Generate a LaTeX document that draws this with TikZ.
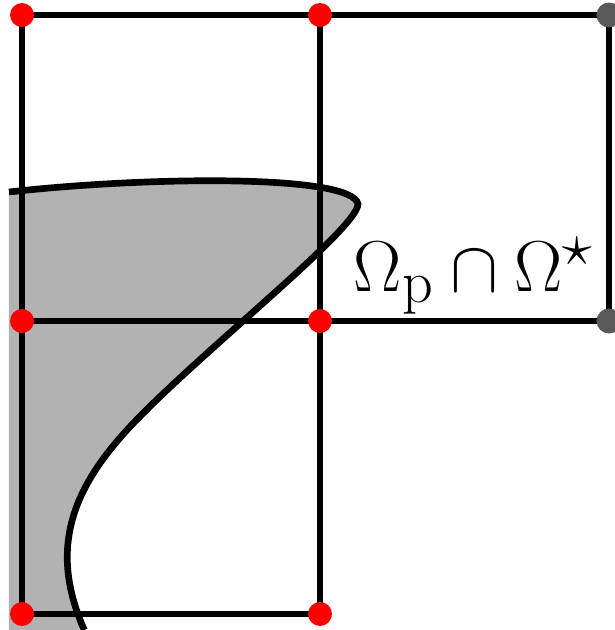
\documentclass[tikz,border=0pt]{standalone}
\usepackage{amsmath,amssymb}
\usepackage{tikz}

\begin{document}
\begin{tikzpicture}[line width=3.4pt,
  gridline/.style={black,line cap=round},
  reddot/.style={fill=red,draw=none},
  greydot/.style={fill=black!65,draw=none}]
\useasboundingbox (-0.44,-0.32) rectangle (11.86,12.28);
% shaded domain
\fill[black!30] (-0.26,8.44) .. controls (2.5,8.75) and (6.6,8.8) .. (6.72,8.2)
  .. controls (6.72,7.7) and (3.4,5.1) .. (2.1,3.68)
  .. controls (1.0,2.48) and (0.55,1.3) .. (1.22,-0.26)
  -- (1.25,-0.32) -- (-0.26,-0.32) -- cycle;
% grid
\draw[gridline] (0,11.98)--(11.74,11.98);
\draw[gridline] (0,5.86)--(11.74,5.86);
\draw[gridline] (0,0)--(5.96,0);
\draw[gridline] (0,0)--(0,11.98);
\draw[gridline] (5.96,0)--(5.96,11.98);
\draw[gridline] (11.74,5.86)--(11.74,11.98);
% boundary
\draw[line width=3.8pt] (-0.26,8.44) .. controls (2.5,8.75) and (6.6,8.8) .. (6.72,8.2)
  .. controls (6.72,7.7) and (3.4,5.1) .. (2.1,3.68)
  .. controls (1.0,2.48) and (0.55,1.3) .. (1.22,-0.26) -- (1.25,-0.32);
% vertices
\foreach \x in {0,5.96}
  \foreach \y in {0,5.86,11.98}
    \fill[reddot] (\x,\y) circle (0.24);
\foreach \y in {5.86,11.98}
  \fill[greydot] (11.74,\y) circle (0.25);
\node[anchor=base west,inner sep=0pt,scale=1.65,font=\Huge] (lbl) at (6.54,6.44)
  {$\Omega_{\mathrm{p}}\cap\Omega^{\star}$};
\end{tikzpicture}
\end{document}
